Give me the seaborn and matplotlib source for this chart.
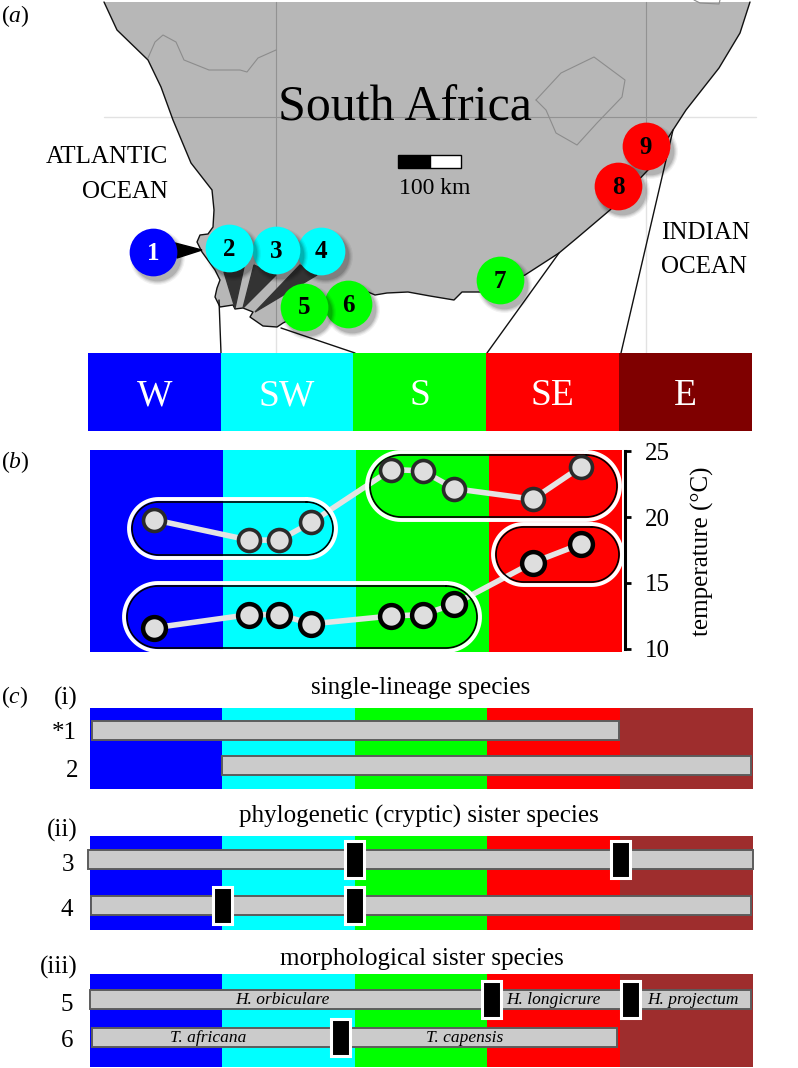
import matplotlib
matplotlib.use("Agg")
import matplotlib.pyplot as plt
import numpy as np
import pandas as pd
import seaborn as sns
from matplotlib.patches import Polygon, Rectangle

# zones
zone_names = ["W", "SW", "S", "SE", "E"]
zone_colors = ["#0000ff", "#00ffff", "#00ff00", "#ff0000", "#7f0000"]
bar_zone_colors = ["#0000ff", "#00ffff", "#00ff00", "#ff0000", "#9e2d2d"]

# temperature panel, x in zone units
site_pos = [0.48, 1.196, 1.424, 1.665, 2.265, 2.5, 2.74, 3.33, 3.69]
temp_summer = [19.8, 18.25, 18.25, 19.6, 23.6, 23.5, 22.15, 21.35, 23.8]
temp_winter = [11.6, 12.6, 12.6, 11.9, 12.5, 12.6, 13.4, 16.55, 17.95]

# map outline, picture pixels
coast_x = [104, 117, 148, 161, 173, 191, 212, 214, 213, 208, 200, 197, 202, 215, 220, 217, 215,
           220, 233, 235, 243, 253, 250, 263, 277, 283, 305, 340, 368, 375, 387, 408, 430, 454,
           462, 480, 525, 559, 577, 610, 648, 673, 686, 719, 740, 750]
coast_y = [2, 30, 60, 87, 120, 163, 190, 210, 227, 234, 235, 242, 252, 270, 280, 288, 297,
           307, 305, 309, 308, 312, 317, 326, 327, 323, 312, 300, 292, 295, 293, 292, 296, 300,
           292, 292, 275, 253, 238, 210, 170, 130, 110, 68, 33, 2]
namibia_x = [148, 155, 163, 176, 184, 209, 240, 247, 258, 276]
namibia_y = [58, 42, 35, 42, 60, 70, 70, 72, 58, 50]
lesotho_x = [536, 561, 594, 625, 622, 597, 577, 556, 546, 536]
lesotho_y = [100, 73, 57, 80, 97, 123, 145, 133, 110, 100]

# sampling sites on the map
site_id = ["1", "2", "3", "4", "5", "6", "7", "8", "9"]
site_x = [153, 229, 276, 321, 304, 348, 500, 618, 646]
site_y = [252, 248, 250, 251, 307, 304, 280, 186, 146]
site_zone = ["W", "SW", "SW", "SW", "S", "S", "S", "SE", "SE"]

# species ranges: row, start zone, end zone
range_i = pd.DataFrame({"row": [0, 1], "start": [0.015, 1.0], "end": [3.994, 4.99]})
range_ii = pd.DataFrame({"row": [0, 1], "start": [-0.01, 0.01], "end": [5.005, 4.99]})
range_iii = pd.DataFrame({"row": [0, 1], "start": [0.0, 0.015], "end": [4.987, 3.974]})
breaks_i = []
breaks_ii = [(2.0, 0), (4.0, 0), (1.0, 1), (2.0, 1)]
breaks_iii = [(3.03, 0), (4.075, 0), (1.888, 1)]
species_iii = [("H. orbiculare", 1.45, 0), ("H. longicrure", 3.5, 0), ("H. projectum", 4.55, 0),
               ("T. africana", 0.89, 1), ("T. capensis", 2.83, 1)]

sns.set_style("white")
plt.rcParams["font.family"] = ["Liberation Serif", "DejaVu Serif"]
plt.rcParams["text.color"] = "black"
plt.rcParams["axes.labelcolor"] = "black"
plt.rcParams["mathtext.fontset"] = "custom"
plt.rcParams["mathtext.rm"] = "Liberation Serif"
plt.rcParams["mathtext.it"] = "Liberation Serif:italic"

W, H = 798, 1068
fig = plt.figure(figsize=(W / 100, H / 100), dpi=100, facecolor="white")


def px_axes(x0, y0, x1, y1):
    ax = fig.add_axes([x0 / W, 1 - y1 / H, (x1 - x0) / W, (y1 - y0) / H], zorder=2)
    return ax


def fill_zones(ax, colors):
    for i, c in enumerate(colors):
        ax.axvspan(i, i + 1, color=c, lw=0, zorder=0)
    ax.set_xlim(0, len(colors))


def stadium(x0, y0, x1, y1):
    # closed outline with fully round ends
    r = (y1 - y0) / 2
    t = np.linspace(-np.pi / 2, np.pi / 2, 40)
    xs = np.r_[x1 - r + r * np.cos(t), x0 + r - r * np.cos(t), x1 - r]
    ys = np.r_[y0 + r + r * np.sin(t), y0 + r - r * np.sin(t), y0]
    return xs, ys


# overlay in picture pixels for the map and free text
px = fig.add_axes([0, 0, 1, 1], zorder=1)
px.set_xlim(0, W)
px.set_ylim(H, 0)
px.axis("off")

# map
for gx in [276, 646]:
    px.plot([gx, gx], [2, 353], color="#e2e2e2", lw=1, zorder=1)
px.plot([104, 756], [117, 117], color="#e2e2e2", lw=1, zorder=1)
land = Polygon(np.column_stack([coast_x, coast_y]), closed=True, facecolor="#b7b7b7",
               edgecolor="none", zorder=2)
px.add_patch(land)
px.plot(coast_x, coast_y, color="#111111", lw=1.0, zorder=3)
for gx in [276, 646]:
    ln, = px.plot([gx, gx], [2, 353], color="#929292", lw=0.8, zorder=2.5)
    ln.set_clip_path(land)
ln, = px.plot([104, 756], [117, 117], color="#929292", lw=0.8, zorder=2.5)
ln.set_clip_path(land)
px.plot(namibia_x, namibia_y, color="#8c8c8c", lw=0.8, zorder=2.6)
px.plot(lesotho_x, lesotho_y, color="#8c8c8c", lw=0.8, zorder=2.6)
px.plot([694, 700, 719, 720], [0, 3, 4, 0], color="#8c8c8c", lw=0.8, zorder=2.6)

# lines from the coast down to the strip
for xs, ys in [([219, 221], [300, 353]), ([281, 355], [328, 353]),
               ([559, 487], [253, 353]), ([673, 621], [130, 353])]:
    px.plot(xs, ys, color="#111111", lw=1.0, zorder=3)

# wedges from site circles to the coast
px.add_patch(Polygon([(175, 243), (177, 258), (202, 250)], color="black", zorder=3.5))
for pts in [[(224, 272), (244, 267), (235, 308)],
            [(254, 265), (276, 275), (243, 308)],
            [(300, 265), (317, 275), (255, 312)]]:
    px.add_patch(Polygon(pts, color="#333333", zorder=3.5))

# lower numbers sit in front, each with its own soft shadow
sites = pd.DataFrame({"id": site_id, "x": site_x, "y": site_y, "zone": site_zone})
palette = dict(zip(zone_names, zone_colors))
for k, (_, r) in enumerate(sites.iloc[::-1].iterrows()):
    base = 4 + k * 0.1
    for grow, alpha in [(1.32, 0.05), (1.2, 0.07), (1.1, 0.09), (1.0, 0.12)]:
        px.scatter([r["x"] + 4], [r["y"] + 5], s=1180 * grow, color="black", alpha=alpha, lw=0,
                   zorder=base)
    sns.scatterplot(x=[r["x"]], y=[r["y"]], color=palette[r["zone"]], s=1180, linewidth=0,
                    legend=False, ax=px, zorder=base + 0.05)
    px.text(r["x"], r["y"] + 1, r["id"], ha="center", va="center", fontsize=18, fontweight="bold",
            color="white" if r["id"] == "1" else "black", zorder=base + 0.06)
px.set_xlim(0, W)
px.set_ylim(H, 0)
px.axis("off")

# scale bar
px.add_patch(Rectangle((398, 155), 32, 13, facecolor="black", edgecolor="black", lw=1, zorder=4))
px.add_patch(Rectangle((430, 155), 31, 13, facecolor="white", edgecolor="black", lw=1, zorder=4))
px.text(435, 189, "100 km", ha="center", va="center", fontsize=17, zorder=5)
px.text(405, 108, "South Africa", ha="center", va="center", fontsize=36, zorder=5)
px.text(168, 157, "ATLANTIC", ha="right", va="center", fontsize=18)
px.text(168, 192, "OCEAN", ha="right", va="center", fontsize=18)
px.text(661, 233, "INDIAN", ha="left", va="center", fontsize=18)
px.text(661, 267, "OCEAN", ha="left", va="center", fontsize=18)

px.text(1, 16, r"($\mathit{a}$)", ha="left", va="center", fontsize=17)
px.text(1, 462, r"($\mathit{b}$)", ha="left", va="center", fontsize=17)
px.text(1, 697, r"($\mathit{c}$)", ha="left", va="center", fontsize=17)

# zone strip
strip = px_axes(88, 353, 751.7, 431)
fill_zones(strip, zone_colors)
strip.set_ylim(0, 1)
strip.axis("off")
for i, name in enumerate(zone_names):
    strip.text(i + 0.5, 0.45, name, color="white", ha="center", va="center", fontsize=27)

# temperature panel
ax_b = px_axes(90, 450, 622, 652)
fill_zones(ax_b, zone_colors[:4])
temps = pd.DataFrame({"pos": site_pos, "summer": temp_summer, "winter": temp_winter})
line_kw = dict(x="pos", color="#e4e4e4", lw=4, estimator=None, sort=False, legend=False, zorder=2)
sns.lineplot(data=temps, y="summer", ax=ax_b, **line_kw)
sns.lineplot(data=temps, y="winter", ax=ax_b, **line_kw)
sns.scatterplot(data=temps, x="pos", y="summer", s=250, color="#dedede", edgecolor="#2a2a2a",
                linewidth=2.6, ax=ax_b, zorder=4)
sns.scatterplot(data=temps, x="pos", y="winter", s=270, color="#dedede", edgecolor="black",
                linewidth=3.2, ax=ax_b, zorder=4)
ax_b.set_xlim(0, 4)
ax_b.set_ylim(9.77, 25.08)
ax_b.set_xticks([])
ax_b.set_xlabel("")
ax_b.set_yticks([10, 15, 20, 25])
ax_b.yaxis.tick_right()
ax_b.yaxis.set_label_position("right")
ax_b.tick_params(axis="y", length=4.5, width=2, labelsize=18, pad=10, colors="black", right=True)
ax_b.set_ylabel("temperature (°C)", fontsize=18, labelpad=15, rotation=90, y=0.5)
for s in ["top", "left", "bottom"]:
    ax_b.spines[s].set_visible(False)
ax_b.spines["right"].set_visible(True)
ax_b.spines["right"].set_color("black")
ax_b.spines["right"].set_linewidth(2.2)
ax_b.spines["right"].set_bounds(10, 25)
ax_b.spines["right"].set_position(("outward", 2))

# grouping outlines around the sites
for x0, y0, x1, y1 in [(129, 499, 336, 558), (367, 452, 620, 520),
                       (493, 524, 622, 585), (124, 583, 480, 651)]:
    xs, ys = stadium(x0 + 3, y0 + 3, x1 - 3, y1 - 3)
    ax_b.plot(xs, ys, color="black", lw=1.2, transform=px.transData, clip_on=False, zorder=3)
    xs, ys = stadium(x0, y0, x1, y1)
    ax_b.plot(xs, ys, color="white", lw=2.8, transform=px.transData, clip_on=False, zorder=3)


# species range panels
def range_panel(top, bottom, row0, row1, ranges, breaks, labels=()):
    ax = px_axes(89.7, top, 752.7, bottom)
    fill_zones(ax, bar_zone_colors)
    step = row1 - row0
    ranges = ranges.assign(length=ranges["end"] - ranges["start"])
    sns.barplot(data=ranges, x="length", y="row", orient="h", native_scale=True, errorbar=None,
                left=ranges["start"], width=19 / step, color="#cbcbcb", saturation=1,
                edgecolor="#5c5c5c", linewidth=1.4, zorder=2, clip_on=False, ax=ax)
    for pos, row in breaks:
        ax.barh(row, 19 / 132.6, left=pos - 9.5 / 132.6, height=37 / step, facecolor="black",
                edgecolor="white", linewidth=2.2, zorder=3, clip_on=False)
    for name, pos, row in labels:
        ax.text(pos, row, name, style="italic", ha="center", va="center", fontsize=12.5, zorder=4)
    ax.set_xlim(0, 5)
    ax.set_ylim(1 + (bottom - row1) / step, -(row0 - top) / step)
    ax.axis("off")


range_panel(707.5, 789.3, 730.4, 765.7, range_i, breaks_i)
range_panel(836.3, 929.7, 859, 905.7, range_ii, breaks_ii)
range_panel(974.3, 1067.3, 999.9, 1037.7, range_iii, breaks_iii, species_iii)

for txt, x, y in [("single-lineage species", 421, 688),
                  ("phylogenetic (cryptic) sister species", 419, 816),
                  ("morphological sister species", 422, 959)]:
    px.text(x, y, txt, ha="center", va="center", fontsize=18)
for txt, x, y in [("(i)", 78, 698), ("(ii)", 78, 830), ("(iii)", 78, 967), ("*1", 77, 733),
                  ("2", 78, 771), ("3", 74, 865), ("4", 73, 910), ("5", 73, 1005), ("6", 73, 1041)]:
    px.text(x, y, txt, ha="right", va="center", fontsize=18)

fig.savefig("out.png", dpi=100)
